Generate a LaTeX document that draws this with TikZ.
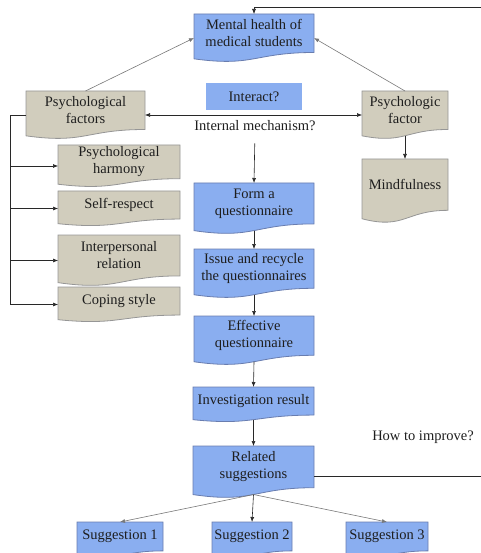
\documentclass[tikz,border=0pt]{standalone}
\usepackage{fontspec}
\setmainfont{Liberation Serif}
\newfontfamily\boxfont{Liberation Serif}
\usetikzlibrary{arrows.meta,calc}
\definecolor{boxblue}{RGB}{138,174,240}
\definecolor{blueborder}{RGB}{105,125,175}
\definecolor{boxtan}{RGB}{209,205,189}
\definecolor{tanborder}{RGB}{150,150,150}
\definecolor{lined}{RGB}{40,40,40}
\definecolor{linel}{RGB}{120,120,120}
\definecolor{txt}{RGB}{30,30,30}
\tikzset{
  bluedoc/.style={fill=boxblue,draw=blueborder,line width=0.8pt},
  tandoc/.style={fill=boxtan,draw=tanborder,line width=0.8pt},
  boxnode/.style={shape=rectangle,inner sep=0pt,outer sep=0pt},
  lbl/.style={align=center,font=\boxfont\fontsize{14.5}{17}\selectfont,text=txt,inner sep=0pt},
  darkline/.style={draw=lined,line width=0.6pt},
  lightline/.style={draw=linel,line width=0.6pt},
  >={Latex[length=5pt,width=4pt]}
}
\newcommand\docbox[7]{%
  \filldraw[#6] (#2,#3) -- ({#2+#4},#3) -- ({#2+#4},{#3+0.802*#5})
    .. controls ({#2+#4/2},{#3+0.802*#5}) and ({#2+#4/2},{#3+1.107*#5}) .. (#2,{#3+0.934*#5}) -- cycle;
  \node[boxnode,minimum width=#4pt,minimum height=#5pt] (#1) at ({#2+#4/2},{#3+#5/2}) {};
  \node[lbl] (#1-t) at ({#2+#4/2},{#3+0.4*#5}) {#7};
  \coordinate (#1-b) at ({#2+#4/2},{#3+0.933*#5});
}
\begin{document}
\begin{tikzpicture}[x=1pt,y=-1pt]
\useasboundingbox (0,0) rectangle (480,553);
\docbox{mh}{194}{14}{120}{48}{bluedoc}{Mental health of\\medical students}
\docbox{pfl}{26}{91}{119}{48}{tandoc}{Psychological\\factors}
\docbox{pfr}{362}{91}{86}{48}{tandoc}{Psychologic\\factor}
\docbox{mind}{362}{159}{86}{64}{tandoc}{Mindfulness}
\docbox{harm}{58}{145}{122}{42}{tandoc}{Psychological\\harmony}
\docbox{self}{58}{191}{122}{35}{tandoc}{Self-respect}
\docbox{inter}{58}{235}{122}{51}{tandoc}{Interpersonal\\relation}
\docbox{cope}{58}{287}{122}{35}{tandoc}{Coping style}
\docbox{form}{194}{183}{120}{51}{bluedoc}{Form a\\questionnaire}
\docbox{issue}{194}{249}{120}{49}{bluedoc}{Issue and recycle\\the questionnaires}
\docbox{eff}{194}{316}{120}{49}{bluedoc}{Effective\\questionnaire}
\docbox{inv}{193}{387}{121}{35}{bluedoc}{Investigation result}
\docbox{rel}{193}{446}{121}{52}{bluedoc}{Related\\suggestions}
\docbox{sa}{77}{522}{86}{36}{bluedoc}{Suggestion 1}
\docbox{sb}{212}{522}{80}{36}{bluedoc}{Suggestion 2}
\docbox{sc}{346}{522}{82}{36}{bluedoc}{Suggestion 3}
\node[fill=boxblue,minimum width=96pt,minimum height=27pt,inner sep=0pt,font=\boxfont\fontsize{14.5}{17}\selectfont,text=txt] (interact) at (254,96.5) {Interact?};
\node[lbl] (im) at (255,126) {Internal mechanism?};
\node[lbl] (how) at (423,437) {How to improve?};
% connectors
\draw[lightline,->] (pfl.north) -- (mh.west);
\draw[lightline,->] (pfr.north) -- (mh.east);
\draw[darkline,<->] (pfl.east) -- (pfr.west);
\draw[darkline,->] (pfr-b) -- (mind.north);
\draw[darkline] (pfl.west) -- ++(-16,0) coordinate (lb) -- (lb |- cope.west);
\draw[darkline,->] (lb |- harm.west) -- (harm.west);
\draw[darkline,->] (lb |- self.west) -- (self.west);
\draw[darkline,->] (lb |- inter.west) -- (inter.west);
\draw[darkline,->] (lb |- cope.west) -- (cope.west);
\draw[darkline,->,shorten <=12pt] (im.south) -- (form.north);
\draw[darkline,->] (form-b) -- (issue.north);
\draw[darkline,->] (issue-b) -- (eff.north);
\draw[darkline,->] (eff-b) -- (inv.north);
\draw[darkline,->] (inv-b) -- (rel.north);
\draw[lightline,->] (rel-b) -- (sa.north);
\draw[darkline,->] (rel-b) -- (sb.north);
\draw[lightline,->] (rel-b) -- (sc.north);
\coordinate (fbr) at (482,7);
\path ([yshift=-4pt]rel.east) coordinate (relo);
\draw[darkline,->] (relo) -- (relo -| fbr) -- (fbr) -- (fbr -| mh.north) -- (mh.north);
\end{tikzpicture}
\end{document}
